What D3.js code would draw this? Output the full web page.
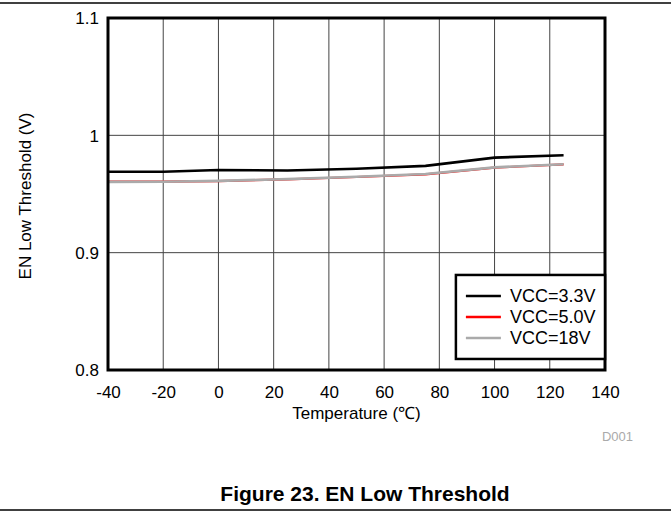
<!DOCTYPE html>
<html lang="en">
<head>
    <meta charset="UTF-8">
    <title>EN Low Threshold</title>
    <script src="https://d3js.org/d3.v7.min.js"></script>
    <style>
        body { margin: 0; background: #fff; }
        svg { display: block; font-family: "Liberation Sans", Arial, sans-serif; }
    </style>
</head>
<body>
    <div id="chart"></div>

    <script>
        // Chart data
        const temps = [-40, -20, 0, 25, 50, 75, 100, 125];
        const vcc33 = [0.969, 0.969, 0.9705, 0.970, 0.9715, 0.974, 0.981, 0.983];
        const vcc50 = [0.9605, 0.9605, 0.961, 0.9625, 0.9645, 0.9668, 0.9725, 0.9752];
        const vcc18 = [0.9603, 0.9605, 0.9612, 0.9627, 0.9647, 0.967, 0.9727, 0.9754];
        const seriesNames = ["VCC=3.3V", "VCC=5.0V", "VCC=18V"];
        const seriesColors = ["#000000", "#ff0000", "#aaaaaa"];
        const xTicks = [-40, -20, 0, 20, 40, 60, 80, 100, 120, 140];
        const yTicks = [0.8, 0.9, 1, 1.1];

        const W = 671, H = 514;
        const margin = {top: 18, right: 66, bottom: 144, left: 108};
        const width = W - margin.left - margin.right;
        const height = H - margin.top - margin.bottom;

        const root = d3.select("#chart").append("svg")
            .attr("width", W)
            .attr("height", H);

        // top and bottom rules of the page
        root.append("line").attr("x1", 0).attr("x2", W).attr("y1", 3).attr("y2", 3)
            .attr("stroke", "#000").attr("stroke-width", 1.5);
        root.append("line").attr("x1", 0).attr("x2", W).attr("y1", 510).attr("y2", 510)
            .attr("stroke", "#000").attr("stroke-width", 1.5);

        const svg = root.append("g")
            .attr("transform", `translate(${margin.left},${margin.top})`);

        const x = d3.scaleLinear().domain([-40, 140]).range([0, width]);
        const y = d3.scaleLinear().domain([0.8, 1.1]).range([height, 0]);

        // grid
        svg.append("g")
            .selectAll("line")
            .data(xTicks.slice(1, -1))
            .enter().append("line")
            .attr("x1", d => x(d)).attr("x2", d => x(d))
            .attr("y1", 0).attr("y2", height)
            .attr("stroke", "#444").attr("stroke-width", 1);

        svg.append("g")
            .selectAll("line")
            .data(yTicks.slice(1, -1))
            .enter().append("line")
            .attr("x1", 0).attr("x2", width)
            .attr("y1", d => y(d)).attr("y2", d => y(d))
            .attr("stroke", "#444").attr("stroke-width", 1);

        // axes (labels only)
        const xAxis = svg.append("g")
            .attr("transform", `translate(0,${height})`)
            .call(d3.axisBottom(x).tickValues(xTicks).tickSize(0).tickPadding(16).tickFormat(d => String(d)));
        const yAxis = svg.append("g")
            .call(d3.axisLeft(y).tickValues(yTicks).tickSize(0).tickPadding(9).tickFormat(d => String(d)));
        [xAxis, yAxis].forEach(a => {
            a.select(".domain").remove();
            a.selectAll("text").attr("font-size", 17).attr("fill", "#000")
                .style("font-family", "'Liberation Sans', Arial, sans-serif");
        });
        yAxis.selectAll("text").attr("dy", "0.35em");

        // lines
        const line = d3.line()
            .x((d, i) => x(temps[i]))
            .y(d => y(d));

        const allSeries = [vcc33, vcc50, vcc18];
        allSeries.forEach((s, i) => {
            svg.append("path")
                .datum(s)
                .attr("fill", "none")
                .attr("stroke", seriesColors[i])
                .attr("stroke-width", i === 1 ? 2.2 : 2.6)
                .attr("d", line);
        });

        // plot border
        svg.append("rect")
            .attr("x", 0).attr("y", 0)
            .attr("width", width).attr("height", height)
            .attr("fill", "none").attr("stroke", "#000").attr("stroke-width", 3);

        // legend
        const lgTop = y(0.881), lgBottom = y(0.8094);
        const lg = svg.append("g").attr("transform", `translate(${x(86)},${lgTop})`);
        lg.append("rect")
            .attr("width", x(140) - x(86)).attr("height", lgBottom - lgTop)
            .attr("fill", "#fff").attr("stroke", "#000").attr("stroke-width", 2.5);
        seriesNames.forEach((n, i) => {
            const ly = 21 + i * 21;
            lg.append("line")
                .attr("x1", 10).attr("x2", 45).attr("y1", ly).attr("y2", ly)
                .attr("stroke", seriesColors[i]).attr("stroke-width", 2.6);
            lg.append("text")
                .attr("x", 54).attr("y", ly).attr("dy", "0.36em")
                .attr("font-size", 18).text(n);
        });

        // axis titles
        svg.append("text")
            .attr("x", (x(-40) + x(140)) / 2).attr("y", height + 49)
            .attr("text-anchor", "middle").attr("font-size", 17)
            .text("Temperature (\u2103)");
        svg.append("text")
            .attr("transform", `translate(${-77},${height / 2 + 2}) rotate(-90)`)
            .attr("text-anchor", "middle").attr("font-size", 17)
            .text("EN Low Threshold (V)");
        svg.append("text")
            .attr("x", width + 28).attr("y", height + 71)
            .attr("text-anchor", "end").attr("font-size", 13).attr("fill", "#aaa")
            .text("D001");

        // figure caption
        root.append("text")
            .attr("x", 365).attr("y", 501)
            .attr("text-anchor", "middle").attr("font-size", 21).attr("font-weight", "bold")
            .text("Figure 23. EN Low Threshold");
    </script>
</body>
</html>
